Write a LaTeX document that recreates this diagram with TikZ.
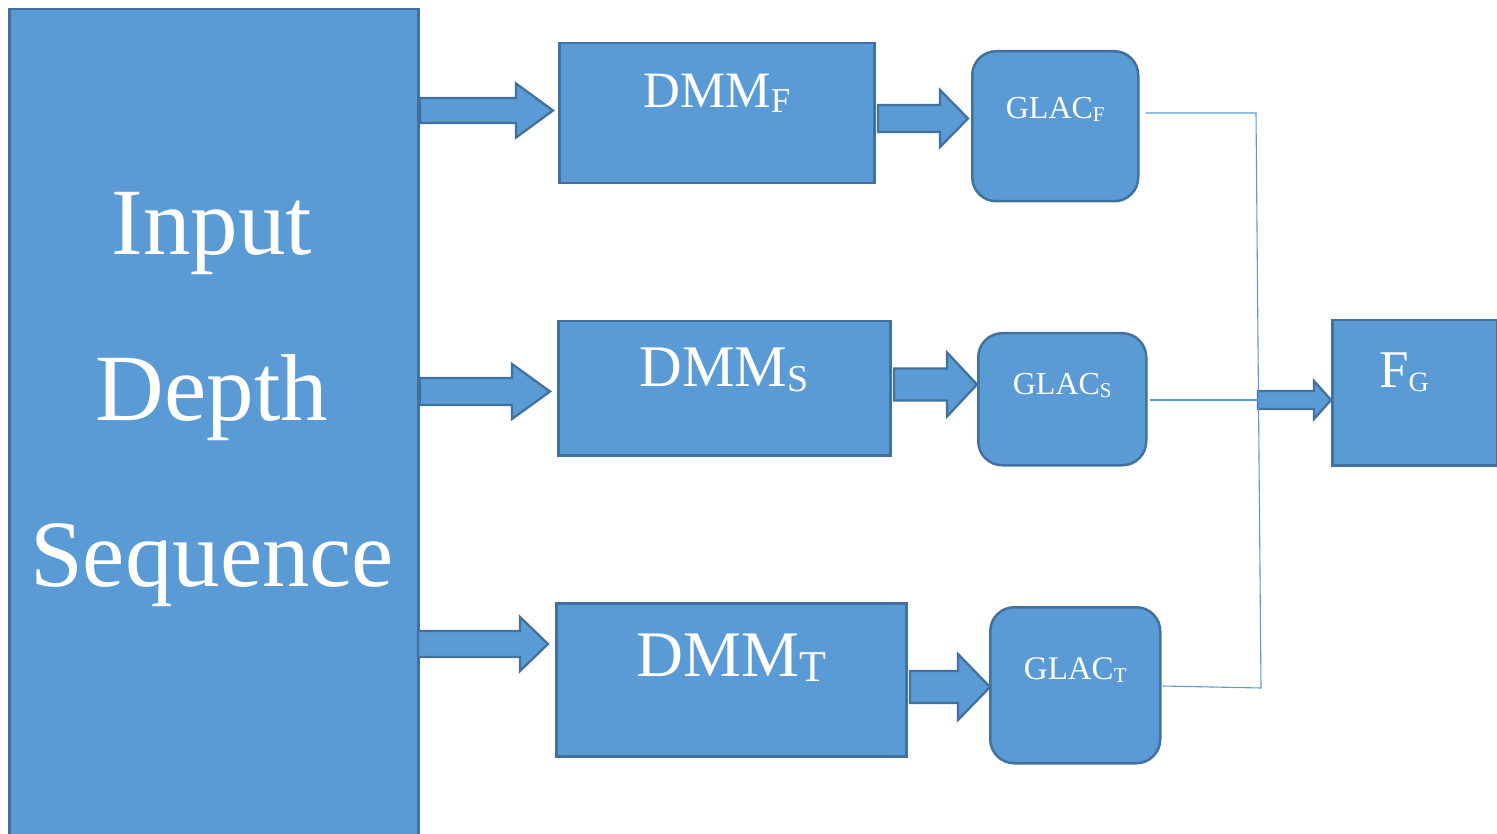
\documentclass[tikz,border=0pt]{standalone}
\usepackage{fontspec}
\setmainfont{Liberation Serif}
\usetikzlibrary{calc}
\definecolor{boxfill}{HTML}{5B9BD5}
\definecolor{boxline}{HTML}{41719C}
\definecolor{thinline}{HTML}{5B9BD5}
\newcommand\fsz[1]{\fontsize{#1}{#1}\selectfont}
\newcommand\lowsub[3]{{\fsz{#1}\raisebox{-#2pt}{#3}}}
% block arrow: x1, x2, yc, shaft half, head half, head base x
\newcommand\blockarrow[6]{%
  \draw[barrow] (#1,#3-#4) -- (#6,#3-#4) -- (#6,#3-#5) -- (#2,#3) -- (#6,#3+#5) -- (#6,#3+#4) -- (#1,#3+#4) -- cycle;}
\begin{document}
\begin{tikzpicture}[x=1pt,y=-1pt,
  box/.style={draw=boxline,fill=boxfill,line width=2.5pt,inner sep=0pt,anchor=north west},
  rbox/.style={box,rounded corners=24pt},
  lbl/.style={text=white,inner sep=0pt,anchor=base},
  barrow/.style={draw=boxline,fill=boxfill,line width=2.3pt,line join=miter},
  conn/.style={draw=thinline,line width=1.1pt}]
\useasboundingbox (0,0) rectangle (1497,834);
% input block
\node[box,minimum width=409pt,minimum height=840pt] (inp) at (8,8) {};
\node[lbl,font=\fsz{95}] (in1) at (212,255) {Input};
\node[lbl,font=\fsz{95}] (in2) at (212,420) {Depth};
\node[lbl,font=\fsz{95}] (in3) at (212,586) {Sequence};
% DMM boxes
\node[box,minimum width=315pt,minimum height=140pt] (dmmf) at (558,42) {};
\node[box,minimum width=332pt,minimum height=134pt] (dmms) at (557,320) {};
\node[box,minimum width=350pt,minimum height=153pt] (dmmt) at (555,602) {};
\node[lbl] (dmmf-t) at ($(dmmf.north)+(0,66)$) {\fsz{51}DMM\lowsub{35}{5}{F}};
\node[lbl] (dmms-t) at ($(dmms.north)+(0,66)$) {\fsz{59}DMM\lowsub{38}{5}{S}};
\node[lbl] (dmmt-t) at ($(dmmt.north)+(0,74)$) {\fsz{65}DMM\lowsub{44}{5}{T}};
% GLAC boxes
\node[rbox,minimum width=166pt,minimum height=150pt] (glacf) at (971,50) {};
\node[rbox,minimum width=168pt,minimum height=132pt] (glacs) at (977,332) {};
\node[rbox,minimum width=170pt,minimum height=156pt] (glact) at (989,606) {};
\node[lbl] (glacf-t) at ($(glacf.north)+(0,69)$) {\fsz{32}GLAC\lowsub{21}{3}{F}};
\node[lbl] (glacs-t) at ($(glacs.north)+(0,62)$) {\fsz{32}GLAC\lowsub{21}{3}{S}};
\node[lbl] (glact-t) at ($(glact.north)+(0,73)$) {\fsz{33}GLAC\lowsub{21}{3}{T}};
% output
\node[box,minimum width=165pt,minimum height=145pt] (fg) at (1331,319) {};
\node[lbl] (fg-t) at (1404,388) {\fsz{53}F\lowsub{28}{4}{G}};
% block arrows
\blockarrow{420}{553}{110.5}{12.5}{27}{516}
\blockarrow{878}{968}{118.5}{13.5}{28.5}{940}
\blockarrow{420}{550}{391.5}{13.5}{27.5}{512}
\blockarrow{894}{977}{384.5}{16}{32}{947}
\blockarrow{418}{548}{644}{13}{27}{520}
\blockarrow{910}{990}{687}{16}{33}{958}
\blockarrow{1258}{1331}{400}{9}{19}{1314}
% thin connectors
\coordinate (jt) at (1256,113);
\coordinate (jm) at (1258,400);
\coordinate (jb) at (1261,688);
\draw[conn] ($(glacf.east |- jt)+(6,0)$) -- (jt) -- (jb) -- ($(glact.east |- jb)+(1,-2)$);
\draw[conn] ($(glacs.east |- jm)+(2,0)$) -- (jm);
\end{tikzpicture}
\end{document}
